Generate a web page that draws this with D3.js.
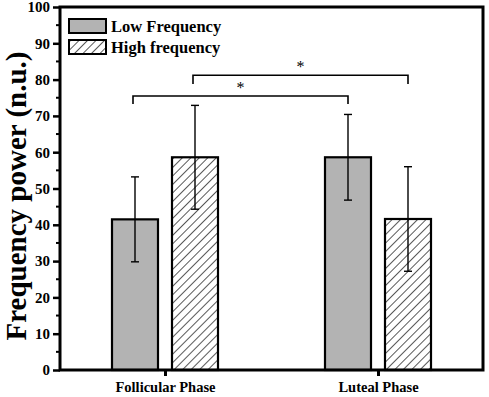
<!DOCTYPE html>
<html lang="en">
<head>
  <meta charset="UTF-8">
  <title>Frequency power</title>
  <script src="https://d3js.org/d3.v7.min.js"></script>
  <style>
    body { margin: 0; background: #fff; }
    text { font-family: "Liberation Serif", "Times New Roman", serif; font-weight: bold; fill: #000; }
  </style>
</head>
<body>
  <div id="chart"></div>
  <script type="text/javascript">

  // data
  var phases = ["Follicular Phase", "Luteal Phase"];
  var seriesNames = ["Low Frequency", "High frequency"];
  var lowMean = [41.5, 58.6];
  var lowErr = [11.7, 11.8];
  var highMean = [58.6, 41.6];
  var highErr = [14.3, 14.4];
  var yTicks = [0, 10, 20, 30, 40, 50, 60, 70, 80, 90, 100];
  // significance brackets: [phase a, series a, phase b, series b, y level, tick end]
  var sigLow = [0, 0, 1, 0, 75.5, 73.3];
  var sigHigh = [0, 1, 1, 1, 81.2, 78.8];

  var w = 489, h = 397;

  var svg = d3.select("#chart").append("svg")
    .attr("width", w)
    .attr("height", h);

  var defs = svg.append("defs");
  var pat = defs.append("pattern")
    .attr("id", "hatch")
    .attr("patternUnits", "userSpaceOnUse")
    .attr("width", 6)
    .attr("height", 6)
    .attr("patternTransform", "rotate(45)");
  pat.append("rect").attr("width", 6).attr("height", 6).attr("fill", "#fff");
  pat.append("line")
    .attr("x1", 0).attr("y1", 0).attr("x2", 0).attr("y2", 6)
    .attr("stroke", "#111").attr("stroke-width", 1.4);

  // category centres
  var xCenter = d3.scalePoint()
    .domain(phases)
    .range([165, 378]);

  var y = d3.scaleLinear()
    .domain([0, 100])
    .range([370, 7]);

  var barW = 46, gap = 14;
  function barX(pi, si) {
    var c = xCenter(phases[pi]);
    return si === 0 ? c - gap / 2 - barW : c + gap / 2;
  }

  var data = [];
  phases.forEach(function(p, i) {
    data.push({p: i, s: 0, v: lowMean[i], e: lowErr[i]});
    data.push({p: i, s: 1, v: highMean[i], e: highErr[i]});
  });

  // bars
  svg.selectAll("rect.bar")
    .data(data)
    .enter()
    .append("rect")
    .attr("class", "bar")
    .attr("x", d => barX(d.p, d.s))
    .attr("y", d => y(d.v))
    .attr("width", barW)
    .attr("height", d => y(0) - y(d.v))
    .attr("fill", d => d.s === 0 ? "#b3b3b3" : "url(#hatch)")
    .attr("stroke", "#000")
    .attr("stroke-width", 2.2);

  // error bars
  var eb = svg.selectAll("g.err")
    .data(data)
    .enter()
    .append("g")
    .attr("class", "err")
    .attr("stroke", "#000")
    .attr("stroke-width", 1.4);
  eb.append("line")
    .attr("x1", d => barX(d.p, d.s) + barW / 2)
    .attr("x2", d => barX(d.p, d.s) + barW / 2)
    .attr("y1", d => y(d.v + d.e))
    .attr("y2", d => y(d.v - d.e));
  eb.append("line")
    .attr("x1", d => barX(d.p, d.s) + barW / 2 - 4)
    .attr("x2", d => barX(d.p, d.s) + barW / 2 + 4)
    .attr("y1", d => y(d.v + d.e))
    .attr("y2", d => y(d.v + d.e));
  eb.append("line")
    .attr("x1", d => barX(d.p, d.s) + barW / 2 - 4)
    .attr("x2", d => barX(d.p, d.s) + barW / 2 + 4)
    .attr("y1", d => y(d.v - d.e))
    .attr("y2", d => y(d.v - d.e));

  // significance brackets
  [sigLow, sigHigh].forEach(function(b) {
    var x1 = barX(b[0], b[1]) + barW / 2 - 2;
    var x2 = barX(b[2], b[3]) + barW / 2;
    svg.append("path")
      .attr("d", "M" + x1 + "," + y(b[5]) + "V" + y(b[4]) + "H" + x2 + "V" + y(b[5]))
      .attr("fill", "none")
      .attr("stroke", "#000")
      .attr("stroke-width", 1.6);
    svg.append("text")
      .attr("x", (x1 + x2) / 2)
      .attr("y", y(b[4]) - 3)
      .attr("text-anchor", "middle")
      .style("font-weight", "normal")
      .style("font-size", "16px")
      .text("*");
  });

  // frame
  svg.append("rect")
    .attr("x", 60)
    .attr("y", y(100))
    .attr("width", 483 - 60)
    .attr("height", y(0) - y(100))
    .attr("fill", "none")
    .attr("stroke", "#000")
    .attr("stroke-width", 3);

  // y axis
  var yAxis = d3.axisLeft(y)
    .tickValues(yTicks)
    .tickSize(7)
    .tickPadding(3)
    .tickFormat(d3.format("d"));
  var gy = svg.append("g")
    .attr("transform", "translate(60,0)")
    .call(yAxis);
  gy.select(".domain").remove();
  gy.selectAll(".tick line").attr("stroke-width", 2.5);
  gy.selectAll(".tick text")
    .style("font-size", "15px")
    .style("font-family", "'Liberation Serif', serif")
    .style("font-weight", "bold");
  // minor ticks
  var minor = yTicks.slice(0, -1).map(d => d + 5);
  svg.append("g").selectAll("line")
    .data(minor)
    .enter()
    .append("line")
    .attr("x1", 56)
    .attr("x2", 60)
    .attr("y1", d => y(d))
    .attr("y2", d => y(d))
    .attr("stroke", "#000")
    .attr("stroke-width", 2);

  // x axis
  var xAxis = d3.axisBottom(xCenter)
    .tickSize(6);
  var gx = svg.append("g")
    .attr("transform", "translate(0,370)")
    .call(xAxis);
  gx.select(".domain").remove();
  gx.selectAll(".tick line").attr("stroke-width", 3);
  gx.selectAll(".tick text")
    .attr("y", 22)
    .attr("dy", 0)
    .style("font-size", "14.5px")
    .style("font-family", "'Liberation Serif', serif")
    .style("font-weight", "bold");

  // y title
  svg.append("text")
    .attr("transform", "translate(26,196) rotate(-90)")
    .attr("text-anchor", "middle")
    .style("font-size", "29px")
    .text("Frequency power (n.u.)");

  // legend
  var leg = svg.append("g");
  seriesNames.forEach(function(n, i) {
    leg.append("rect")
      .attr("x", 69)
      .attr("y", 19 + i * 21)
      .attr("width", 37)
      .attr("height", 14)
      .attr("fill", i === 0 ? "#b3b3b3" : "url(#hatch)")
      .attr("stroke", "#000")
      .attr("stroke-width", 2);
    leg.append("text")
      .attr("x", 111)
      .attr("y", 31.5 + i * 21)
      .style("font-size", "16.5px")
      .text(n);
  });

  </script>
</body>
</html>
